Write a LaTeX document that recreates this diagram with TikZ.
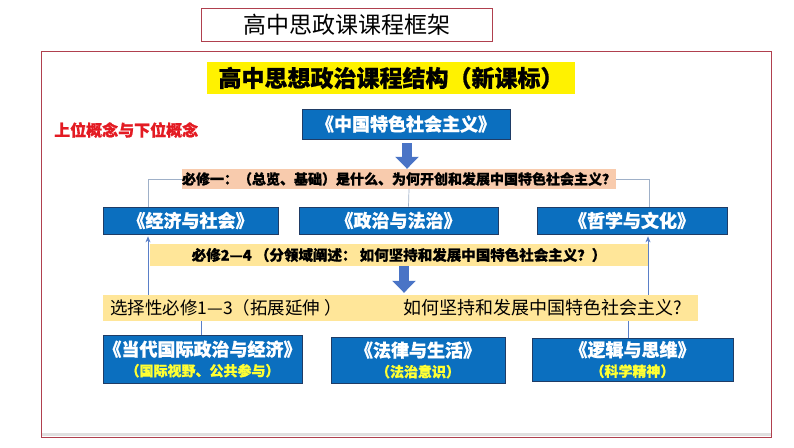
\documentclass[tikz,border=0pt]{standalone}
\usepackage{fontspec}
\setmainfont{Noto Sans CJK SC}[BoldFeatures={FakeBold=0.8}]
\usetikzlibrary{arrows.meta}
\definecolor{boxblue}{HTML}{0B6FBF}
\definecolor{boxedge}{HTML}{1F3C66}
\definecolor{peach}{HTML}{F8CBAD}
\definecolor{lightyel}{HTML}{FFE699}
\definecolor{framered}{HTML}{B0404E}
\definecolor{conngray}{HTML}{9FB0C8}
\definecolor{connblue}{HTML}{5A7FC8}
\definecolor{arrowblue}{HTML}{4A74C6}
\definecolor{subyel}{HTML}{FFFF33}
\definecolor{redtxt}{HTML}{E31B23}
\begin{document}
\begin{tikzpicture}[x=1pt,y=-1pt,
  bluebox/.style={draw=boxedge,line width=0.8pt,fill=boxblue,text=white,inner sep=0pt,
    font=\fontsize{18}{21}\selectfont\bfseries,align=center},
  barbox/.style={inner sep=0pt,font=\fontsize{14}{16}\selectfont\bfseries},
  thinconn/.style={draw=conngray,line width=0.7pt},
  uparrow/.style={draw=connblue,line width=0.7pt,-{Stealth[length=6pt,width=5pt]}},
  plainconn/.style={draw=connblue,line width=0.7pt},
  blockarrow/.style={draw=arrowblue,line width=10pt,-{Triangle[length=12pt,width=23pt]}}
]
\useasboundingbox (0,0) rectangle (794,447);
% outer frame
\node[minimum width=729pt,minimum height=385pt,inner sep=0pt] (frame) at (406.5,244.5) {};
\draw[draw=black!12,line width=2.5pt] ([yshift=2.5pt]frame.south west) -- ([yshift=2.5pt]frame.south east);
\draw[draw=framered,line width=0.8pt] (frame.north west) rectangle (frame.south east);
% title
\node[draw=framered,line width=0.8pt,minimum width=291pt,minimum height=33pt,inner sep=0pt,
  font=\fontsize{23}{26}\selectfont] (title) at (346.5,24.5) {高中思政课课程框架};
\node[fill=yellow,minimum width=368pt,minimum height=32pt,inner sep=0pt,
  font=\fontsize{23}{26}\selectfont\bfseries] (head) at (391,78) {高中思想政治课程结构（新课标）};
\node[text=redtxt,inner sep=0pt,anchor=west,font=\fontsize{16}{18}\selectfont\bfseries] (concept) at (54,130) {上位概念与下位概念};
% top
\node[bluebox,minimum width=208pt,minimum height=30pt] (cs) at (406,124) {《中国特色社会主义》};
\node[barbox,fill=peach,minimum width=432pt,minimum height=20pt] (req1) at (399,179) {必修一：（总览、基础）是什么、为何开创和发展中国特色社会主义？};
% second row
\node[bluebox,minimum width=175pt,minimum height=27pt] (econ) at (190.5,220.5) {《经济与社会》};
\node[bluebox,minimum width=199pt,minimum height=27pt] (pol) at (398.5,220.5) {《政治与法治》};
\node[bluebox,minimum width=190pt,minimum height=27pt] (phil) at (632,220.5) {《哲学与文化》};
% bars
\node[barbox,fill=lightyel,minimum width=498pt,minimum height=22pt,font=\fontsize{14.5}{16}\selectfont\bfseries] (req2) at (399,255) {必修2—4 （分领域阐述： 如何坚持和发展中国特色社会主义？）};
\node[fill=lightyel,minimum width=595pt,minimum height=26pt,inner sep=0pt] (sel) at (400.5,308) {};
\node[anchor=west,inner sep=0pt,font=\fontsize{17.5}{18}\selectfont] (selL) at (110,308) {选择性必修1—3（拓展延伸 ）};
\node[anchor=west,inner sep=0pt,font=\fontsize{18}{18}\selectfont] (selR) at (403,308) {如何坚持和发展中国特色社会主义?};
% bottom row
\node[bluebox,minimum width=199pt,minimum height=48pt] (intl) at (202.5,359)
  {《当代国际政治与经济》\\[-1pt]{\fontsize{14}{15}\selectfont\color{subyel}（国际视野、公共参与）}};
\node[bluebox,minimum width=174pt,minimum height=46pt] (law) at (418,360)
  {《法律与生活》\\[-1pt]{\fontsize{14}{15}\selectfont\color{subyel}（法治意识）}};
\node[bluebox,minimum width=201pt,minimum height=43pt] (logic) at (632.5,359.5)
  {《逻辑与思维》\\[-1pt]{\fontsize{14}{15}\selectfont\color{subyel}（科学精神）}};
% connectors top
\coordinate (econtop) at ([xshift=-42.5pt]econ.north);
\coordinate (philtop) at ([xshift=17pt]phil.north);
\draw[thinconn] (req1.west) -| (econtop);
\draw[thinconn] (req1.east) -| (philtop);
\draw[thinconn] ([xshift=10pt]req1.south) -- ([xshift=10pt]pol.north);
% up arrows
\coordinate (econbot) at ([xshift=-42.5pt]econ.south);
\coordinate (philbot) at ([xshift=16pt]phil.south);
\draw[uparrow] (sel.north -| econbot) -- ([yshift=-2pt]econbot);
\draw[uparrow] (sel.north -| philbot) -- ([yshift=-2pt]philbot);
% bottom connectors
\coordinate (intltop) at ([xshift=-1.5pt]intl.north);
\coordinate (logictop) at ([xshift=-4.5pt]logic.north);
\draw[plainconn] (intltop) -- (sel.south -| intltop);
\draw[plainconn] (logictop) -- (sel.south -| logictop);
% block arrows
\draw[blockarrow] ([xshift=1pt,yshift=-4pt]cs.south) -- ([xshift=1pt]cs.south |- req1.north);
\draw[blockarrow] ([xshift=5pt]req2.south) -- ([xshift=5pt,yshift=2pt]req2.south |- sel.north);
\end{tikzpicture}
\end{document}
